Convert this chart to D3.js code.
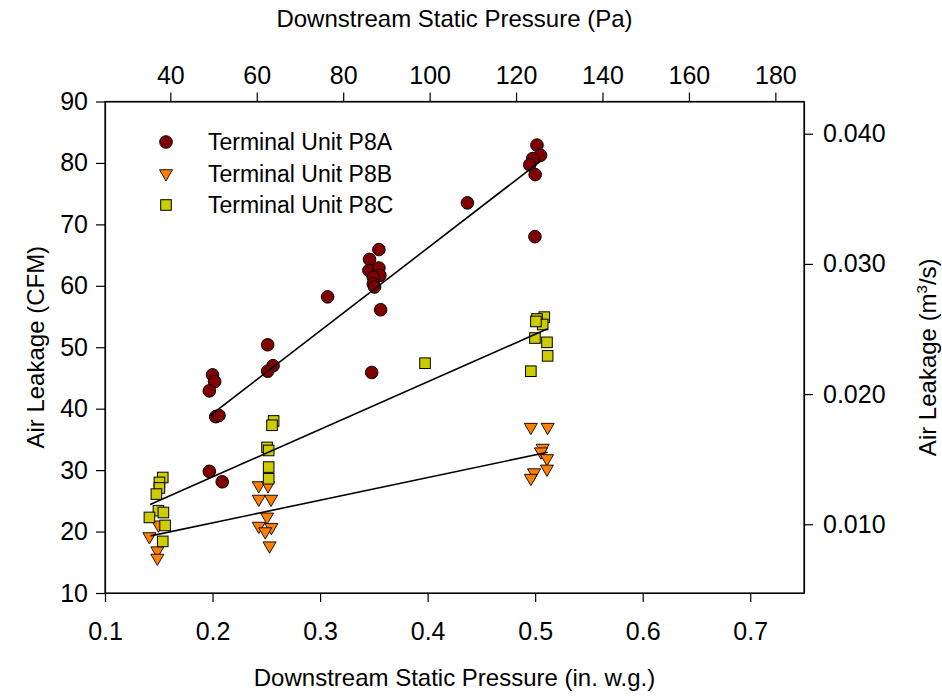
<!DOCTYPE html>
<html>
<head>
<meta charset="utf-8">
<script src="https://cdn.jsdelivr.net/npm/d3@7/dist/d3.min.js"></script>
<style>
  html, body { margin: 0; padding: 0; background: #fff; }
  svg text { font-family: "Liberation Sans", Arial, sans-serif; fill: #000; }
</style>
</head>
<body>
<svg id="chart" width="942" height="698"></svg>
<script>
// ---------------- DATA ----------------
const seriesNames = ["Terminal Unit P8A", "Terminal Unit P8B", "Terminal Unit P8C"];

// [pressure (in. w.g.), leakage (CFM)]
const p8a = [
  [0.197, 29.8], [0.209, 28.1], [0.200, 45.5], [0.202, 44.4], [0.197, 42.9],
  [0.203, 38.7], [0.206, 38.9], [0.2513, 50.4], [0.2563, 47.0], [0.2513, 46.1],
  [0.307, 58.2], [0.3547, 65.9], [0.346, 64.3], [0.3454, 62.5], [0.3547, 62.9],
  [0.3556, 61.7], [0.3495, 61.4], [0.3495, 60.3], [0.3507, 59.8], [0.3563, 56.1],
  [0.348, 45.9], [0.437, 73.5], [0.5017, 82.9], [0.505, 81.25], [0.4977, 80.7],
  [0.495, 79.7], [0.500, 78.1], [0.4998, 68.0]
];
const p8b = [
  [0.1413, 19.2], [0.1497, 21.1], [0.1487, 16.9], [0.1487, 15.7],
  [0.243, 27.5], [0.2516, 27.5], [0.243, 25.3], [0.2544, 25.3], [0.2507, 22.4],
  [0.243, 20.9], [0.2547, 20.7], [0.249, 20.0], [0.253, 17.7],
  [0.496, 37.0], [0.5116, 37.0], [0.507, 33.6], [0.5054, 33.0], [0.511, 31.9],
  [0.511, 30.2], [0.499, 29.6], [0.496, 28.7]
];
const p8c = [
  [0.1537, 28.8], [0.1506, 28.0], [0.1506, 27.1], [0.1478, 26.1], [0.1497, 23.4],
  [0.1543, 23.1], [0.1413, 22.3], [0.1559, 21.0], [0.1537, 18.4],
  [0.2568, 38.0], [0.2553, 37.3], [0.2507, 33.7], [0.2522, 33.2], [0.2522, 30.5],
  [0.2522, 28.6], [0.3976, 47.4],
  [0.5085, 54.9], [0.5017, 54.6], [0.507, 53.7], [0.5007, 54.2], [0.4998, 51.5],
  [0.511, 50.8], [0.5116, 48.6], [0.496, 46.1]
];

// fitted lines: [start, end]
const fitP8A = [[0.198, 38.9], [0.505, 80.3]];
const fitP8B = [[0.1425, 19.3], [0.5116, 32.9]];
const fitP8C = [[0.142, 24.4], [0.5116, 53.0]];

const xTicks = [0.1, 0.2, 0.3, 0.4, 0.5, 0.6, 0.7];
const yTicks = [10, 20, 30, 40, 50, 60, 70, 80, 90];
const paTicks = [40, 60, 80, 100, 120, 140, 160, 180];
const m3sTicks = [0.010, 0.020, 0.030, 0.040];

const xDomain = [0.1, 0.75];
const yDomain = [10, 90];
const PA_PER_INWG = 248.84;
const M3S_PER_CFM = 0.000471947;

// ---------------- LAYOUT ----------------
const svg = d3.select("#chart");
const L = 105, R = 804, T = 101.5, B = 593;
const FS_TICK = 25, FS_TITLE = 24, FS_LEG = 23;

const x = d3.scaleLinear().domain(xDomain).range([L, R]);
const y = d3.scaleLinear().domain(yDomain).range([B, T]);
const xPa = d3.scaleLinear().domain(xDomain.map(d => d * PA_PER_INWG)).range([L, R]);
const yM3 = d3.scaleLinear().domain(yDomain.map(d => d * M3S_PER_CFM)).range([B, T]);

function styleAxis(g) {
  g.selectAll("path.domain").attr("stroke", "#000").attr("stroke-width", 1.2);
  g.selectAll(".tick line").attr("stroke", "#000").attr("stroke-width", 1.2);
  g.selectAll(".tick text").style("font-size", FS_TICK + "px").attr("fill", "#000");
}

svg.append("g").attr("transform", `translate(0,${B})`)
  .call(d3.axisBottom(x).tickValues(xTicks).tickFormat(d3.format(".1f")).tickSize(9).tickPadding(20).tickSizeOuter(0))
  .call(styleAxis);
svg.append("g").attr("transform", `translate(${L},0)`)
  .call(d3.axisLeft(y).tickValues(yTicks).tickFormat(d3.format("d")).tickSize(9).tickPadding(8).tickSizeOuter(0))
  .call(styleAxis);
svg.append("g").attr("transform", `translate(0,${T})`)
  .call(d3.axisTop(xPa).tickValues(paTicks).tickFormat(d3.format("d")).tickSize(9).tickPadding(9).tickSizeOuter(0))
  .call(styleAxis);
svg.append("g").attr("transform", `translate(${R},0)`)
  .call(d3.axisRight(yM3).tickValues(m3sTicks).tickFormat(d3.format(".3f")).tickSize(9).tickPadding(10).tickSizeOuter(0))
  .call(styleAxis);

// axis titles
svg.append("text").attr("x", (L + R) / 2).attr("y", 27).attr("text-anchor", "middle")
  .style("font-size", FS_TITLE + "px").text("Downstream Static Pressure (Pa)");
svg.append("text").attr("x", (L + R) / 2).attr("y", 686).attr("text-anchor", "middle")
  .style("font-size", FS_TITLE + "px").text("Downstream Static Pressure (in. w.g.)");
svg.append("text").attr("transform", `translate(44,${(T + B) / 2}) rotate(-90)`).attr("text-anchor", "middle")
  .style("font-size", FS_TITLE + "px").text("Air Leakage (CFM)");
const rt = svg.append("text").attr("transform", `translate(936,${(T + B) / 2 + 10}) rotate(-90)`).attr("text-anchor", "middle")
  .style("font-size", FS_TITLE + "px");
rt.append("tspan").text("Air Leakage (m");
rt.append("tspan").attr("dy", -9).style("font-size", "15px").text("3");
rt.append("tspan").attr("dy", 9).text("/s)");

// ---------------- MARKS ----------------
const colA = "#800000", colB = "#ff7f00", colC = "#cccc00";
const tri = d3.symbol().type(d3.symbolTriangle).size(74);

function drawCircle(g, px, py) {
  g.append("circle").attr("cx", px).attr("cy", py).attr("r", 6.3)
    .attr("fill", colA).attr("stroke", "#000").attr("stroke-width", 1);
}
function drawTri(g, px, py) {
  g.append("path").attr("d", tri()).attr("transform", `translate(${px},${py}) rotate(180)`)
    .attr("fill", colB).attr("stroke", "#000").attr("stroke-width", 0.9);
}
function drawSq(g, px, py) {
  g.append("rect").attr("x", px - 5.3).attr("y", py - 5.3).attr("width", 10.6).attr("height", 10.6)
    .attr("fill", colC).attr("stroke", "#000").attr("stroke-width", 1);
}

const gPts = svg.append("g");
p8a.forEach(d => drawCircle(gPts, x(d[0]), y(d[1])));
p8b.forEach(d => drawTri(gPts, x(d[0]), y(d[1])));
p8c.forEach(d => drawSq(gPts, x(d[0]), y(d[1])));

const line = d3.line().x(d => x(d[0])).y(d => y(d[1]));
[fitP8A, fitP8B, fitP8C].forEach(f => {
  svg.append("path").attr("d", line(f)).attr("fill", "none")
    .attr("stroke", "#000").attr("stroke-width", 1.6);
});

// frame
svg.append("rect").attr("x", L).attr("y", T).attr("width", R - L).attr("height", B - T)
  .attr("fill", "none").attr("stroke", "#000").attr("stroke-width", 1.2);

// ---------------- LEGEND ----------------
const legY = [142, 173.5, 205];
const legX = 166;
drawCircle(svg, legX, legY[0]);
drawTri(svg, legX, legY[1]);
drawSq(svg, legX, legY[2]);
seriesNames.forEach((n, i) => {
  svg.append("text").attr("x", 208).attr("y", legY[i] + 8).style("font-size", FS_LEG + "px").text(n);
});
</script>
</body>
</html>
